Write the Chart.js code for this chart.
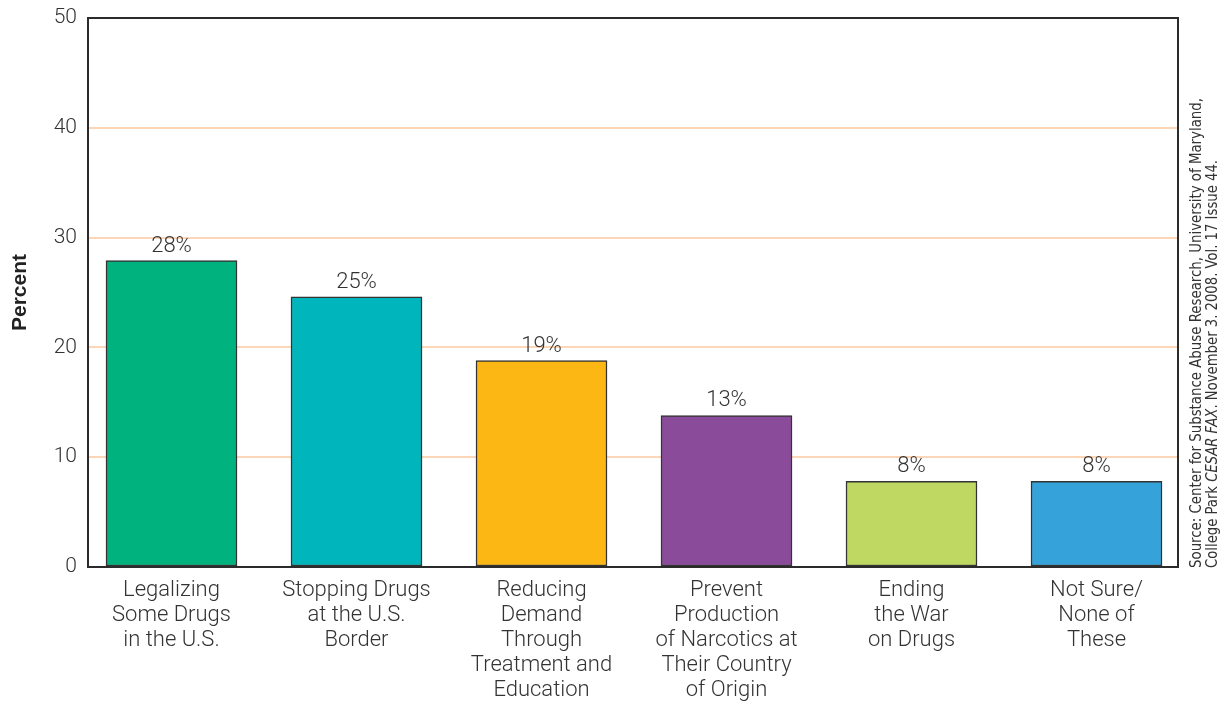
<!DOCTYPE html>
<html><head><meta charset="utf-8">
<script src="https://cdn.jsdelivr.net/npm/chart.js@4/dist/chart.umd.min.js"></script>
<style>html,body{margin:0;padding:0;background:#fff;}#wrap{width:1221px;height:702px;position:relative}</style>
</head><body><div id="wrap"><canvas id="c" width="1221" height="702"></canvas></div>
<script>
// ---- data ----
const categories = [
  ["Legalizing", "Some Drugs", "in the U.S."],
  ["Stopping Drugs", "at the U.S.", "Border"],
  ["Reducing", "Demand", "Through", "Treatment and", "Education"],
  ["Prevent", "Production", "of Narcotics at", "Their Country", "of Origin"],
  ["Ending", "the War", "on Drugs"],
  ["Not Sure/", "None of", "These"]
];
const percentValues = [27.9, 24.6, 18.8, 13.8, 7.8, 7.8];
const valueLabels = ["28%", "25%", "19%", "13%", "8%", "8%"];
const barColors = ["#00b27d", "#00b6bc", "#fdb714", "#8b4b9b", "#bed862", "#35a3da"];
const yTickValues = [0, 10, 20, 30, 40, 50];
const yTitle = "Percent";
const sourceLine1 = [["Source: Center for Substance Abuse Research, University of Maryland,", false]];
const sourceLine2 = [["College Park ", false], ["CESAR FAX", true], [". November 3. 2008. Vol. 17 Issue 44.", false]];

const FONT = 'Roboto, "Liberation Sans", Arial, sans-serif';
const TEXT = '#333333';

const valueLabelPlugin = {
  id: 'valueLabels',
  afterDatasetsDraw(chart) {
    const ctx = chart.ctx;
    const meta = chart.getDatasetMeta(0);
    ctx.save();
    ctx.font = '300 22px ' + FONT;
    ctx.fillStyle = TEXT;
    ctx.textAlign = 'center';
    ctx.textBaseline = 'alphabetic';
    meta.data.forEach((bar, i) => {
      ctx.fillText(valueLabels[i], bar.x, bar.y - 9);
    });
    ctx.restore();
  }
};

const framePlugin = {
  id: 'frame',
  afterDatasetsDraw(chart) {
    const a = chart.chartArea;
    const ctx = chart.ctx;
    ctx.save();
    ctx.strokeStyle = '#2b2b2b';
    ctx.lineWidth = 2;
    ctx.strokeRect(a.left, a.top, a.right - a.left, a.bottom - a.top);
    ctx.restore();
  }
};

function drawSegments(ctx, segs, size, targetLen) {
  const fam = '"Liberation Sans Narrow", "DejaVu Sans Condensed", "Liberation Sans", sans-serif';
  let total = 0;
  segs.forEach(([t, it]) => { ctx.font = (it ? 'italic ' : '') + size + 'px ' + fam; total += ctx.measureText(t).width; });
  ctx.scale(targetLen / total, 1);
  let x = 0;
  segs.forEach(([t, it]) => {
    ctx.font = (it ? 'italic ' : '') + size + 'px ' + fam;
    ctx.fillText(t, x, 0);
    x += ctx.measureText(t).width;
  });
}

const sourcePlugin = {
  id: 'source',
  afterDraw(chart) {
    const ctx = chart.ctx;
    const base = chart.chartArea.bottom + 1;
    ctx.save();
    ctx.fillStyle = TEXT;
    ctx.textBaseline = 'alphabetic';
    ctx.textAlign = 'left';
    ctx.save();
    ctx.translate(1201, base);
    ctx.rotate(-Math.PI / 2);
    drawSegments(ctx, sourceLine1, 15, 470);
    ctx.restore();
    ctx.save();
    ctx.translate(1217, base);
    ctx.rotate(-Math.PI / 2);
    drawSegments(ctx, sourceLine2, 15, 408);
    ctx.restore();
    ctx.restore();
  }
};

const barData = percentValues.map((v, i) => ({ x: i, y: v }));

new Chart(document.getElementById('c'), {
  type: 'bar',
  data: {
    datasets: [{
      data: barData,
      backgroundColor: barColors,
      borderColor: '#333333',
      borderWidth: 1.5,
      borderSkipped: false,
      barThickness: 131
    }]
  },
  options: {
    responsive: false,
    maintainAspectRatio: false,
    animation: false,
    devicePixelRatio: 1,
    layout: { padding: { top: 18, right: 43, left: 0, bottom: 0 } },
    plugins: { legend: { display: false }, tooltip: { enabled: false } },
    scales: {
      x: {
        type: 'linear',
        offset: false,
        min: -0.4514,
        max: 5.4405,
        grid: { display: false, drawTicks: false },
        border: { display: false },
        afterBuildTicks: (s) => { s.ticks = categories.map((_, i) => ({ value: i })); },
        afterFit: (s) => { s.height = 135; s.paddingLeft = 0; s.paddingRight = 0; },
        ticks: {
          autoSkip: false,
          maxRotation: 0,
          padding: 11,
          color: TEXT,
          font: { family: FONT, size: 22, weight: '300', lineHeight: '25px' },
          callback: (v) => categories[v]
        }
      },
      y: {
        min: 0,
        max: 50,
        afterBuildTicks: (s) => { s.ticks = yTickValues.map(v => ({ value: v })); },
        afterFit: (s) => { s.width = 88; s.paddingTop = 0; s.paddingBottom = 0; },
        grid: {
          color: (c) => (c.tick && (c.tick.value === 0 || c.tick.value === 50)) ? 'rgba(0,0,0,0)' : '#fcd6b6',
          lineWidth: 2,
          drawTicks: false
        },
        border: { display: false },
        ticks: {
          padding: 11,
          color: TEXT,
          font: { family: FONT, size: 21, weight: '300' }
        },
        title: {
          display: true,
          text: yTitle,
          color: '#222222',
          padding: { top: 8, bottom: 0 },
          font: { family: '"Liberation Sans", Arial, sans-serif', size: 21, weight: 'bold' }
        }
      }
    }
  },
  plugins: [valueLabelPlugin, framePlugin, sourcePlugin]
});
</script>
</body></html>
